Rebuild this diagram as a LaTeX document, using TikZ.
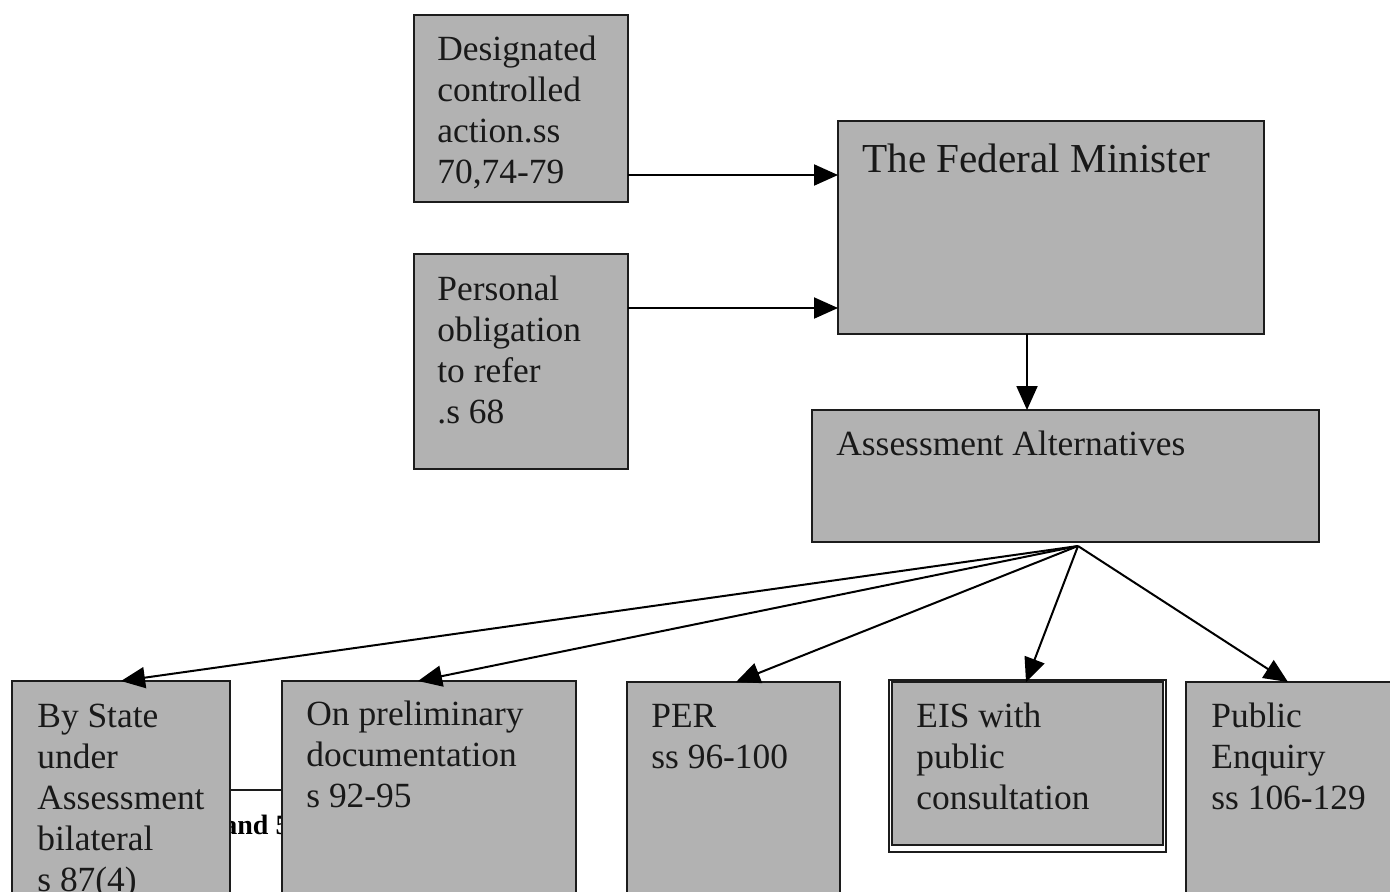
\documentclass[tikz,border=0pt]{standalone}
\usepackage{fontspec}
\setmainfont{Liberation Serif}
\usetikzlibrary{arrows.meta,fit}
\definecolor{boxfill}{RGB}{178,178,178}
\definecolor{edge}{RGB}{28,28,28}
\pgfdeclarelayer{back}
\pgfsetlayers{back,main}
% top-aligned multi-line text: the node's base is the first line's baseline
\newcommand\stacktext[1]{\parbox[t]{400pt}{#1}}

\begin{document}
\begin{tikzpicture}[x=0.5pt,y=-0.5pt,
  panel/.style={draw=edge, fill=boxfill, line width=1pt, inner sep=0pt, outer sep=0pt},
  caption/.style={anchor=base west, inner sep=0pt, text=black!90,
    font=\fontsize{17.7}{20.5}\selectfont},
  link/.style={draw=black, line width=1pt, -{Triangle[length=12pt,width=10.5pt]}},
]
\clip (0,0) rectangle (1390,891);

% referral sources and the minister
\node[panel, fit={(414,15) (628,202)}] (desig) {};
\node[panel, fit={(414,254) (628,469)}] (person) {};
\node[panel, fit={(838,121) (1264,334)}] (minister) {};
\node[panel, fit={(812,410) (1319,542)}] (alts) {};

% assessment routes
\node[panel, fit={(12,681) (230,930)}] (state) {};
\node[panel, fit={(282,681) (576,930)}] (prelim) {};
\node[panel, fit={(627,682) (840,930)}] (per) {};
\draw[edge, line width=0.6pt] (889,680) rectangle (1166,852);
\node[panel, fit={(892,682) (1163,845)}] (eis) {};
\node[panel, fit={(1186,682) (1400,930)}] (enquiry) {};

% texts
\node[caption] (tdesig) at (437,60) {\stacktext{Designated\\controlled\\action.ss\\70,74-79}};
\node[caption] (tperson) at (437,300) {\stacktext{Personal\\obligation\\to refer\\.s 68}};
\node[caption, font=\fontsize{20.6}{24}\selectfont] (tminister) at (862,172) {The Federal Minister};
\node[caption] (talts) at (836,455) {Assessment Alternatives};
\node[caption] (tstate) at (37,727) {\stacktext{By State\\under\\Assessment\\bilateral\\s 87(4)}};
\node[caption] (tprelim) at (306,725) {\stacktext{On preliminary\\documentation\\s 92-95}};
\node[caption] (tper) at (651,727) {\stacktext{PER\\ss 96-100}};
\node[caption] (teis) at (916,727) {\stacktext{EIS with\\public\\consultation}};
\node[caption] (tenquiry) at (1211,727) {\stacktext{Public\\Enquiry\\ss 106-129}};

% white page, and the partly covered link between the two left routes
\begin{pgfonlayer}{back}
  \fill[white] (0,0) rectangle (1390,891);
  \draw[edge, line width=0.9pt] (state.east |- 0,790) -- (prelim.west |- 0,790);
  \node[anchor=base west, inner sep=0pt, font=\fontsize{14}{16}\selectfont\bfseries]
    (tand) at (223,834) {and 5};
\end{pgfonlayer}

% connectors
\draw[link] (desig.east |- 0,175) -- (minister.west |- 0,175);
\draw[link] (person.east |- 0,308) -- (minister.west |- 0,308);
\draw[link] (minister.south -| 1027,0) -- (alts.north -| 1027,0);
\coordinate (fan) at (1078,546);
\draw[link] (fan) -- (state.north);
\draw[link] (fan) -- (prelim.north -| 418,0);
\draw[link] (fan) -- (per.north -| 736,0);
\draw[link] (fan) -- (eis.north -| 1026,0);
\draw[link] (fan) -- (enquiry.north -| 1288,0);
\end{tikzpicture}
\end{document}
